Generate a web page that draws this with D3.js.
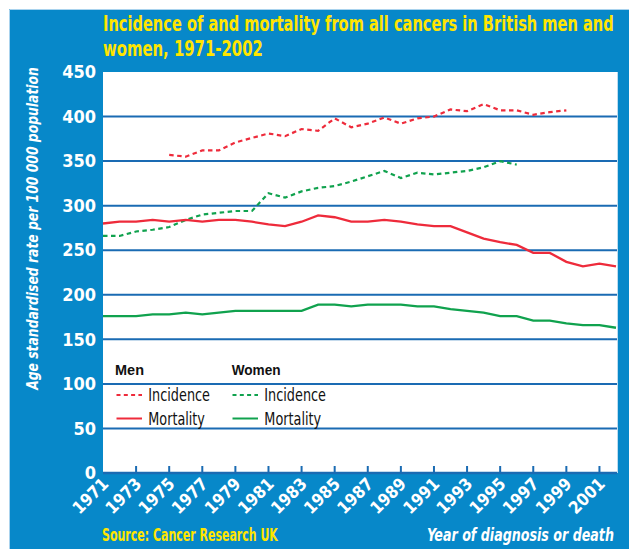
<!DOCTYPE html>
<html><head><meta charset="utf-8">
<script src="https://cdn.jsdelivr.net/npm/d3@7"></script>
<style>
html,body{margin:0;padding:0;background:#fff;}
svg{display:block;}
</style></head>
<body>
<svg id="chart" width="629" height="549"></svg>
<script>
const years = [1971,1972,1973,1974,1975,1976,1977,1978,1979,1980,1981,1982,1983,1984,1985,1986,1987,1988,1989,1990,1991,1992,1993,1994,1995,1996,1997,1998,1999,2000,2001,2002];
const menIncidence = [null,null,null,null,357,355,362,362,371,376,381,378,386,384,398,388,392,399,392,398,400,408,406,414,407,407,402,405,407,null,null,null];
const womenIncidence = [266,266,271,273,276,284,290,292,294,294,314,309,316,320,322,327,333,339,331,337,335,337,339,343,350,346,null,null,null,null,null,null];
const menMortality = [280,282,282,284,282,284,282,284,284,282,279,277,282,289,287,282,282,284,282,279,277,277,270,263,259,256,247,247,237,232,235,232];
const womenMortality = [176,176,176,178,178,180,178,180,182,182,182,182,182,189,189,187,189,189,189,187,187,184,182,180,176,176,171,171,168,166,166,163];
const xTickYears = [1971,1973,1975,1977,1979,1981,1983,1985,1987,1989,1991,1993,1995,1997,1999,2001];
const yTicks = [0,50,100,150,200,250,300,350,400,450];
const titleLines = ["Incidence of and mortality from all cancers in British men and","women, 1971-2002"];
const yTitle = "Age standardised rate per 100 000 population";
const xTitle = "Year of diagnosis or death";
const sourceText = "Source: Cancer Research UK";

const BLUE = "#0788c9", GRID = "#1a6bb3", RED = "#ee2b3b", GREEN = "#10a24e", YELLOW = "#ffe500";
const NARROW = "'Liberation Sans Narrow','DejaVu Sans Condensed','Liberation Sans',sans-serif";

const svg = d3.select("#chart");
svg.append("rect").attr("x",9).attr("y",9).attr("width",620).attr("height",540).attr("fill",BLUE);
svg.append("path").attr("d","M9.5,549 V9.5 H629").attr("fill","none").attr("stroke","#a9d3ee").attr("stroke-width",1);

const L = 103, R = 617, T = 72, B = 473;
const x = d3.scaleLinear().domain([1971,2002]).range([L,616]);
const y = d3.scaleLinear().domain([0,450]).range([B,T]);

svg.append("rect").attr("x",L).attr("y",T).attr("width",R-L).attr("height",B-T).attr("fill","#fff");
svg.append("line").attr("x1",R+0.5).attr("x2",R+0.5).attr("y1",T).attr("y2",B).attr("stroke","#bcdcf0").attr("stroke-width",1);

// gridlines
svg.append("g").selectAll("line").data(yTicks.filter(d=>d>0 && d<450)).join("line")
  .attr("x1",L).attr("x2",R).attr("y1",d=>y(d)).attr("y2",d=>y(d))
  .attr("stroke",GRID).attr("stroke-width",2);

// y axis labels
const yAxis = d3.axisLeft(y).tickValues(yTicks).tickSize(0).tickPadding(7);
const gy = svg.append("g").attr("transform",`translate(${L},0)`).call(yAxis);
gy.select(".domain").remove();
gy.selectAll("text").attr("fill","#fff").attr("font-family",NARROW).attr("font-weight","bold").attr("font-size",18);

// x axis
const xAxis = d3.axisBottom(x).tickValues(xTickYears).tickSize(0).tickFormat(d3.format("d"));
const gx = svg.append("g").attr("transform",`translate(0,${B})`).call(xAxis);
gx.select(".domain").remove();
gx.selectAll("text").attr("fill","#fff").attr("font-family",NARROW).attr("font-weight","bold").attr("font-size",17)
  .attr("text-anchor","end").attr("dy",null).attr("y",null)
  .attr("transform","translate(6,12) rotate(-45)");
svg.append("g").selectAll("line").data(xTickYears.filter(d=>d>1971)).join("line")
  .attr("x1",d=>x(d)).attr("x2",d=>x(d)).attr("y1",B).attr("y2",B-7)
  .attr("stroke",GRID).attr("stroke-width",2);
svg.append("line").attr("x1",L).attr("x2",R).attr("y1",B).attr("y2",B).attr("stroke",GRID).attr("stroke-width",2.5);

// lines
const line = d3.line().defined(d=>d[1]!=null).x(d=>x(d[0])).y(d=>y(d[1]));
const series = [
  {vals:menIncidence, color:RED, dash:"4.5,3.5"},
  {vals:womenIncidence, color:GREEN, dash:"4.5,3.5"},
  {vals:menMortality, color:RED, dash:null},
  {vals:womenMortality, color:GREEN, dash:null}
];
series.forEach(s=>{
  svg.append("path").datum(years.map((yr,i)=>[yr,s.vals[i]]))
    .attr("d",line).attr("fill","none").attr("stroke",s.color)
    .attr("stroke-width",s.dash?2.2:2.3).attr("stroke-dasharray",s.dash);
});

// helper: place text at (tx,ty) with optional rotation, squeezed horizontally to width w
function fitText(parent, str, tx, ty, w, attrs, rot, anchor){
  const g = parent.append("g");
  const t = g.append("text").text(str).attr("text-anchor",anchor||"start");
  Object.entries(attrs).forEach(([k,v])=>t.attr(k,v));
  const n = t.node().getComputedTextLength();
  const sx = Math.min(1.15, w/n);
  g.attr("transform",`translate(${tx},${ty})${rot?` rotate(${rot})`:""} scale(${sx},1)`);
  return t;
}

// legend
const lg = svg.append("g");
const legendHead = [{t:"Men",x:115,w:29},{t:"Women",x:231.7,w:49}];
legendHead.forEach(d=>fitText(lg,d.t,d.x,375,d.w,{"font-family":"'Liberation Sans',Arial,sans-serif","font-weight":"bold","font-size":15.5,"fill":"#111"}));
const legendItems = [
  {x:116.5,yy:395,color:RED,dash:"4,3.3",t:"Incidence",w:61.7},
  {x:116.5,yy:418.5,color:RED,dash:null,t:"Mortality",w:56.7},
  {x:232.5,yy:395,color:GREEN,dash:"4,3.3",t:"Incidence",w:61.7},
  {x:232.5,yy:418.5,color:GREEN,dash:null,t:"Mortality",w:57}
];
legendItems.forEach(d=>{
  lg.append("line").attr("x1",d.x).attr("x2",d.x+25.5).attr("y1",d.yy).attr("y2",d.yy)
    .attr("stroke",d.color).attr("stroke-width",2).attr("stroke-dasharray",d.dash);
  fitText(lg,d.t,d.x+31.8,d.yy+6,d.w,{"font-family":NARROW,"font-size":17,"fill":"#111"});
});

// title
const tg = svg.append("g");
titleLines.forEach((s,i)=>fitText(tg,s,103,31+i*24.5,i===0?511:160,
  {"font-family":NARROW,"font-weight":"bold","font-size":20.5,"fill":YELLOW}));

// y title
fitText(svg,yTitle,38,228.5,323,{"font-family":NARROW,"font-weight":"bold","font-style":"italic","font-size":16,"fill":"#fff"},-90,"middle");

// x title & source
fitText(svg,xTitle,427,540.5,187,{"font-family":NARROW,"font-weight":"bold","font-style":"italic","font-size":17.5,"fill":"#fff"});
fitText(svg,sourceText,102,541,176,{"font-family":NARROW,"font-weight":"bold","font-size":17,"fill":YELLOW});
</script>
</body></html>
